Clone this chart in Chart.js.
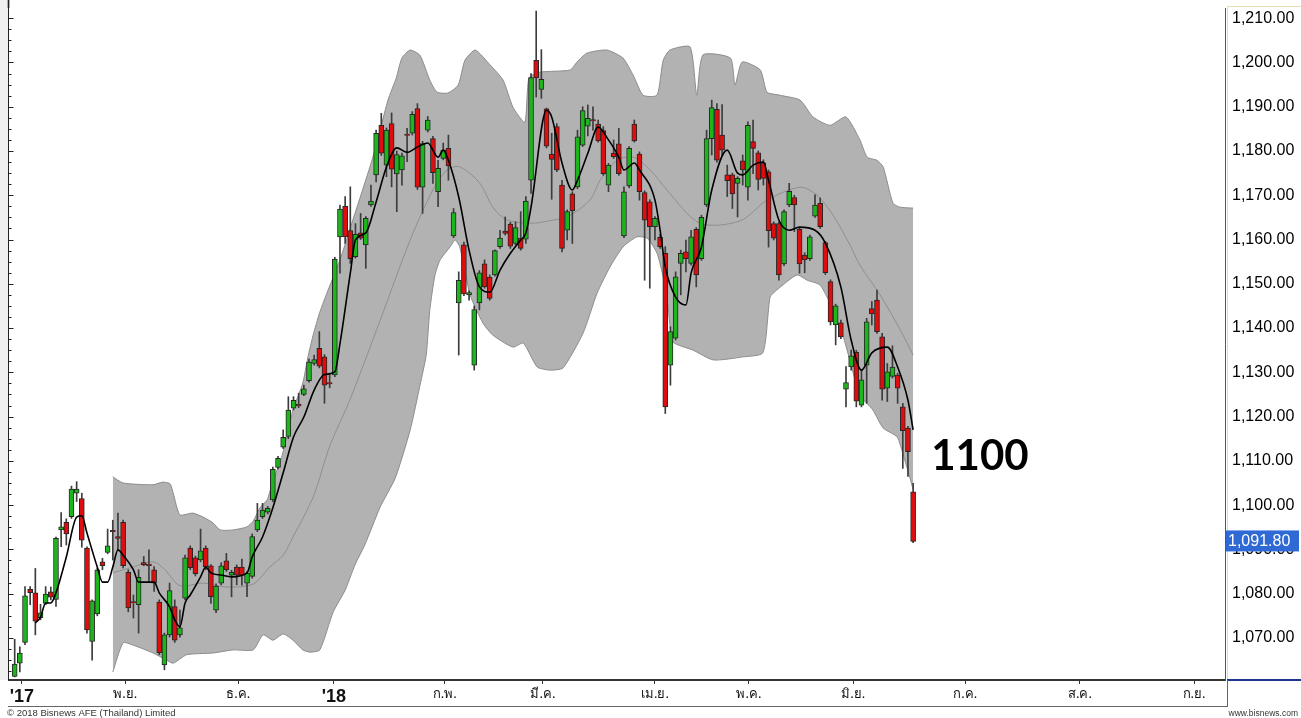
<!DOCTYPE html>
<html>
<head>
<meta charset="utf-8">
<script src="https://cdn.jsdelivr.net/npm/chart.js@4.4.1/dist/chart.umd.min.js"></script>
<style>
  html, body { margin: 0; padding: 0; background: #fff; }
  #wrap { position: relative; width: 1301px; height: 718px; }
</style>
</head>
<body>
<div id="wrap"><canvas id="chart" width="1301" height="718"></canvas></div>
<script>
// daily candles, index = trading day from early Oct 2017
const openP = [1061.3,1064.3,1069.0,1081.0,1080.2,1074.6,1077.8,1080.4,1078.7,1094.4,
  1096.1,1097.4,1102.7,1101.5,1090.3,1069.2,1075.4,1087.2,1089.3,1094.3,
  1092.9,1096.1,1084.8,1078.2,1077.5,1087.0,1086.7,1085.4,1078.1,1063.9,
  1070.7,1077.1,1070.7,1079.0,1090.3,1088.1,1087.6,1090.3,1086.3,1076.3,
  1082.4,1087.4,1084.2,1086.0,1086.0,1082.4,1083.9,1094.4,1097.4,1098.4,
  1101.2,1108.5,1113.1,1115.5,1121.9,1122.8,1125.0,1128.1,1132.0,1135.4,
  1133.5,1127.7,1129.4,1160.6,1167.5,1162.0,1156.1,1161.5,1158.8,1167.8,
  1174.6,1185.8,1176.8,1186.2,1174.8,1175.7,1183.8,1184.0,1189.6,1171.8,
  1184.7,1182.8,1170.8,1178.3,1180.6,1160.8,1145.7,1158.8,1147.5,1131.6,
  1145.7,1154.5,1151.5,1152.0,1158.4,1161.9,1163.5,1159.1,1160.3,1160.1,
  1173.4,1200.5,1193.9,1189.5,1179.3,1185.5,1172.3,1162.1,1170.3,1171.9,
  1181.3,1185.6,1187.1,1186.1,1184.6,1172.3,1179.5,1181.6,1160.8,1172.1,
  1186.1,1179.3,1170.6,1168.5,1162.9,1160.5,1156.9,1131.6,1137.7,1154.6,
  1157.2,1154.6,1162.3,1155.7,1167.8,1182.8,1189.4,1183.6,1174.6,1174.6,
  1172.7,1177.8,1171.8,1182.1,1179.6,1177.3,1175.3,1163.6,1163.6,1154.5,
  1167.8,1169.5,1162.3,1156.5,1155.7,1165.3,1168.2,1159.3,1150.5,1140.7,
  1141.2,1126.2,1131.2,1134.5,1122.6,1131.6,1144.4,1146.3,1138.0,1126.4,
  1129.1,1129.4,1122.2,1117.4,1103.0];
const highP = [1069.7,1068.0,1081.6,1081.6,1085.7,1077.6,1081.6,1081.5,1092.8,1098.3,
  1096.9,1104.3,1105.3,1102.7,1090.6,1078.6,1085.8,1088.0,1094.6,1096.6,
  1098.2,1096.6,1085.4,1079.7,1085.4,1088.4,1089.9,1086.1,1078.6,1071.1,
  1082.4,1078.6,1076.3,1088.7,1090.8,1088.5,1094.6,1090.8,1086.6,1082.2,
  1087.0,1089.1,1085.3,1086.5,1087.8,1085.0,1093.5,1100.4,1100.4,1099.7,
  1108.6,1111.0,1117.0,1124.5,1124.5,1125.3,1127.1,1133.0,1133.9,1139.2,
  1134.0,1129.8,1156.0,1167.8,1169.7,1171.9,1163.6,1165.9,1165.2,1172.3,
  1184.7,1188.5,1185.2,1188.6,1180.0,1179.5,1185.1,1188.9,1190.7,1182.2,
  1187.8,1183.3,1177.9,1181.8,1183.6,1167.0,1152.7,1159.4,1148.4,1145.0,
  1153.0,1155.4,1152.0,1157.7,1162.1,1165.1,1163.9,1164.0,1166.3,1169.7,
  1197.5,1211.6,1202.9,1189.7,1184.0,1186.2,1173.4,1166.7,1170.8,1184.7,
  1190.0,1190.4,1190.0,1187.0,1185.5,1177.2,1182.5,1185.1,1171.9,1181.0,
  1187.0,1179.8,1171.0,1169.0,1165.2,1161.2,1158.4,1140.3,1152.7,1157.6,
  1159.9,1162.1,1162.7,1165.5,1184.7,1191.5,1190.7,1190.5,1176.8,1175.0,
  1174.2,1179.1,1186.6,1187.0,1180.0,1178.0,1175.7,1164.0,1164.0,1166.7,
  1172.7,1170.0,1162.7,1157.0,1161.0,1170.1,1169.4,1159.6,1150.9,1145.4,
  1141.8,1131.3,1135.0,1135.0,1130.5,1142.2,1146.0,1148.6,1138.8,1132.0,
  1136.0,1129.8,1123.0,1117.8,1104.9];
const lowP = [1061.2,1062.3,1068.5,1077.5,1070.7,1074.1,1077.5,1078.6,1077.1,1090.6,
  1091.0,1097.0,1100.8,1090.5,1071.1,1065.0,1075.0,1085.4,1089.0,1087.6,
  1089.9,1085.8,1075.9,1074.5,1071.1,1086.3,1082.7,1080.5,1066.2,1062.8,
  1070.2,1069.0,1070.2,1078.6,1085.4,1084.0,1087.2,1085.4,1077.8,1075.7,
  1082.0,1085.0,1079.3,1082.0,1081.9,1079.3,1083.5,1094.0,1097.0,1098.0,
  1100.8,1108.2,1112.8,1115.0,1121.5,1122.0,1124.7,1127.8,1131.6,1131.0,
  1123.0,1126.5,1129.0,1152.4,1159.1,1154.6,1155.8,1160.0,1153.5,1167.5,
  1173.0,1179.0,1174.2,1171.9,1166.3,1172.3,1177.6,1183.6,1171.3,1165.9,
  1184.3,1172.7,1167.4,1178.0,1173.4,1160.4,1133.9,1147.3,1146.3,1130.5,
  1144.1,1149.0,1146.3,1151.7,1158.0,1161.0,1158.0,1158.7,1157.6,1159.1,
  1170.4,1192.2,1191.9,1180.7,1169.1,1175.3,1157.2,1159.9,1159.1,1171.5,
  1181.0,1183.4,1184.7,1182.0,1174.5,1170.8,1178.3,1174.5,1160.4,1171.7,
  1182.0,1168.9,1150.8,1149.0,1159.9,1158.0,1120.7,1127.1,1137.3,1147.5,
  1152.7,1154.2,1149.3,1155.3,1167.4,1179.1,1177.5,1179.0,1169.7,1167.0,
  1165.1,1172.3,1168.9,1174.9,1171.2,1172.3,1158.3,1159.9,1150.8,1154.1,
  1167.4,1161.8,1152.4,1152.5,1155.3,1165.0,1162.5,1152.1,1140.7,1136.2,
  1137.6,1122.2,1130.5,1122.2,1122.2,1123.0,1140.7,1138.8,1123.7,1123.4,
  1128.7,1123.0,1108.3,1106.5,1091.5];
const closeP = [1064.1,1066.6,1079.5,1080.2,1073.8,1075.7,1079.9,1079.2,1092.5,1095.1,
  1093.5,1103.6,1103.6,1092.1,1071.8,1078.4,1085.4,1086.3,1090.8,1094.0,
  1092.5,1086.3,1076.8,1077.9,1083.7,1086.5,1086.3,1082.4,1066.7,1070.7,
  1080.7,1069.5,1072.3,1088.1,1085.9,1084.5,1089.7,1086.1,1079.3,1081.7,
  1086.3,1085.4,1084.8,1084.2,1084.2,1084.6,1092.9,1096.6,1098.9,1099.3,
  1108.1,1110.6,1115.3,1121.5,1123.7,1122.4,1126.3,1132.3,1132.9,1131.4,
  1127.1,1127.4,1155.6,1166.9,1160.6,1155.7,1161.2,1160.3,1164.8,1168.7,
  1184.0,1179.5,1184.7,1175.9,1179.2,1178.9,1183.5,1188.3,1171.8,1181.7,
  1187.0,1175.1,1176.1,1180.2,1176.6,1166.1,1150.8,1147.7,1148.0,1144.2,
  1152.5,1149.3,1146.7,1157.5,1160.3,1161.4,1158.5,1162.7,1158.0,1168.7,
  1196.6,1196.5,1196.2,1181.1,1178.1,1175.7,1158.0,1166.3,1166.5,1183.2,
  1189.1,1187.4,1186.8,1182.3,1174.9,1176.8,1178.7,1174.9,1170.8,1180.6,
  1182.3,1170.8,1164.4,1162.9,1164.8,1158.4,1122.2,1139.2,1151.6,1156.9,
  1155.7,1160.6,1152.0,1165.0,1182.8,1189.8,1177.9,1180.2,1173.3,1170.3,
  1173.8,1175.7,1185.8,1180.6,1173.6,1173.8,1162.0,1160.3,1152.0,1166.3,
  1170.9,1167.8,1154.5,1155.4,1160.6,1167.8,1162.9,1152.5,1141.4,1145.0,
  1138.0,1127.7,1133.7,1123.5,1128.3,1141.4,1143.2,1139.2,1126.2,1130.1,
  1131.2,1126.4,1116.8,1112.1,1091.8];

// short moving average (black line), read at these candle indices
const maIdx = [4,5,6,7,8,10,12,13,14,16,17,18,19,20,21,23,24,27,28,30,31,32,33,34,36,37,38,40,42,45,
  46,48,50,52,54,56,58,60,62,63,65,66,68,70,72,74,76,78,80,82,83,84,86,88,90,92,94,96,98,99,
  100,103,104,106,108,109,111,113,115,117,118,120,121,124,125,126,128,130,131,133,135,138,140,141,143,145,146,148,150,152,
  155,157,160,162,164,166,169,171,173,174];
const maVal = [1073.4,1074.7,1077.9,1077.9,1080.2,1088.3,1097.3,1097.6,1093.7,1086.0,1082.6,1082.6,1086.0,1089.9,1088.7,1085.4,1082.6,1082.6,1080.2,1077.0,
  1074.1,1072.5,1077.9,1079.7,1083.8,1086.0,1084.7,1084.2,1083.8,1084.7,1088.3,1092.8,1099.4,1107.3,1115.4,1119.9,1126.0,1129.5,1130.1,1136.5,
  1152.4,1159.9,1161.5,1168.5,1176.4,1180.7,1179.7,1180.9,1181.8,1178.6,1180.2,1177.9,1169.6,1157.6,1149.3,1148.1,1153.1,1156.9,1159.9,1161.5,
  1167.3,1189.2,1187.7,1177.3,1171.2,1173.4,1179.5,1185.4,1182.5,1178.6,1175.7,1177.3,1175.7,1168.9,1162.1,1153.8,1147.0,1145.2,1152.4,1158.3,
  1171.2,1180.2,1175.0,1174.6,1176.8,1177.5,1173.4,1164.4,1162.1,1162.8,1162.1,1159.2,1149.3,1137.3,1130.5,1134.4,1135.7,1131.2,1123.7,1117.0];

// Bollinger band edges and middle line
const upIdx = [19.0,21.0,26.8,28.7,30.1,30.7,32.0,34.5,36.5,38.4,39.8,42.3,45.0,46.2,47.5,48.9,49.4,50.8,51.4,52.7,
  53.9,55.8,56.8,57.8,59.1,60.7,63.0,65.3,69.4,72.3,73.9,75.0,76.6,78.5,80.4,81.8,83.9,85.9,87.2,89.2,
  92.1,94.6,96.5,98.8,99.6,101.7,107.6,108.9,110.8,114.7,117.8,119.8,121.7,124.4,125.6,126.9,130.8,132.1,133.3,138.6,
  139.5,140.9,144.4,145.7,148.2,152.1,154.6,157.9,161.0,163.7,165.1,167.0,168.2,170.1,171.5,174.0];
const upVal = [1106.4,1105.0,1104.6,1105.2,1104.8,1102.7,1097.8,1098.2,1097.3,1096.0,1094.4,1094.4,1095.1,1096.4,1099.4,1101.2,1103.0,1107.9,1109.5,1115.4,
  1121.5,1127.6,1133.5,1138.4,1143.6,1148.6,1155.4,1163.7,1178.7,1191.5,1196.5,1201.0,1202.8,1201.6,1196.0,1193.3,1193.1,1194.9,1200.5,1202.8,
  1199.4,1196.0,1189.9,1186.5,1196.5,1197.8,1198.3,1200.1,1202.1,1202.8,1201.0,1197.1,1192.6,1192.6,1200.5,1202.8,1203.5,1192.6,1201.7,1201.0,
  1194.9,1200.1,1198.3,1193.3,1192.6,1191.5,1187.7,1185.8,1187.7,1182.5,1178.6,1177.9,1176.4,1168.2,1167.3,1167.1];
const loIdx = [19.0,21.0,22.9,26.8,29.4,30.7,33.3,38.4,42.3,46.2,48.1,50.0,52.0,53.9,55.8,57.2,59.1,61.7,64.0,65.9,
  67.8,70.8,73.7,76.6,78.5,79.7,80.4,81.4,82.4,84.3,85.3,86.2,88.2,90.7,92.6,96.5,98.5,101.2,103.7,106.2,
  110.1,112.8,115.3,117.8,120.5,122.5,124.4,125.6,126.4,126.9,127.5,131.4,135.3,141.1,144.9,146.3,147.6,151.5,153.5,156.0,
  158.5,160.4,163.7,166.2,168.2,170.9,172.1,173.4,174.0];
const loVal = [1062.3,1068.9,1068.4,1066.6,1065.0,1064.3,1066.2,1066.6,1067.3,1067.3,1070.7,1069.5,1070.9,1069.5,1067.3,1066.8,1067.3,1075.9,1080.8,1086.5,
  1091.0,1099.6,1106.1,1117.0,1127.1,1133.9,1144.1,1152.0,1155.4,1158.3,1159.9,1158.3,1147.5,1141.1,1138.4,1135.7,1136.6,1131.2,1130.5,1131.0,
  1138.9,1147.9,1153.8,1158.3,1160.6,1160.3,1156.9,1151.5,1146.3,1140.7,1136.8,1135.0,1132.8,1133.5,1134.4,1147.0,1148.6,1152.0,1150.8,1149.7,
  1144.1,1138.4,1124.9,1121.5,1117.4,1115.4,1111.3,1106.1,1103.5];
const midIdx = [19.0,22.3,26.8,29.1,32.0,36.5,41.1,46.2,49.4,52.0,53.9,57.8,61.1,64.9,70.8,76.6,81.0,83.7,86.2,90.1,
  92.6,95.4,100.4,104.3,107.0,111.4,113.4,116.7,119.8,123.1,126.3,132.7,140.5,145.7,152.1,155.4,158.5,161.8,163.7,167.6,
  171.5,174.0];
const midVal = [1084.7,1085.8,1087.2,1085.4,1081.8,1082.4,1081.5,1082.2,1086.0,1088.7,1092.8,1101.8,1113.6,1123.7,1141.8,1159.9,1171.2,1175.7,1176.4,1172.7,
  1167.3,1164.4,1163.7,1164.4,1165.1,1168.9,1173.4,1177.9,1178.6,1175.7,1171.2,1163.7,1164.2,1168.9,1171.8,1170.0,1165.5,1158.7,1154.2,1147.5,
  1139.6,1133.9];

// axis labels
const monthIdx = [1.4, 21.4, 43.3, 61.8, 83.3, 102.3, 124.0, 142.2, 162.4, 184.1, 206.3, 228.4];
const monthLabels = ["'17", "พ.ย.", "ธ.ค.", "'18", "ก.พ.", "มี.ค.", "เม.ย.", "พ.ค.", "มิ.ย.", "ก.ค.", "ส.ค.", "ก.ย."];
const yTicks = [1070, 1080, 1090, 1100, 1110, 1120, 1130, 1140, 1150, 1160, 1170, 1180, 1190, 1200, 1210];

// note on the right of the last candle
const noteText = '1100';
const noteIdx = 177.5;
const noteVal = 1111.0;

const GREEN = '#1cb51c';
const RED = '#df0d0d';
const fmt = v => v.toLocaleString('en-US', { minimumFractionDigits: 2, maximumFractionDigits: 2 });
const pts = (xs, ys) => xs.map((x, i) => ({ x: x, y: ys[i] }));

const decor = {
  id: 'decor',
  beforeDraw(chart) {
    const ctx = chart.ctx;
    ctx.save();
    ctx.fillStyle = '#fff';
    ctx.fillRect(0, 0, chart.width, chart.height);
    ctx.restore();
  },
  afterDraw(chart) {
    const { ctx, chartArea: a, scales: { x, y } } = chart;
    ctx.save();
    // left strip + small left axis
    ctx.fillStyle = '#f0f0f0';
    ctx.fillRect(0, 0, 8, a.bottom);
    ctx.fillStyle = '#f5a623';
    ctx.fillRect(7, 0, 3, 8);
    ctx.strokeStyle = '#222';
    ctx.lineWidth = 1;
    ctx.beginPath();
    ctx.moveTo(8.5, 0);
    ctx.lineTo(8.5, a.bottom);
    for (let v = 1062.5; v <= 1212; v += 2.5) {
      const py = Math.round(y.getPixelForValue(v)) + 0.5;
      const len = (v % 10 === 0) ? 5 : 3;
      ctx.moveTo(8.5, py);
      ctx.lineTo(8.5 + len, py);
    }
    ctx.stroke();

    // pale frame of the price column
    ctx.strokeStyle = '#eadcae';
    ctx.beginPath();
    ctx.moveTo(a.right + 2.5, 6);
    ctx.lineTo(a.right + 2.5, a.bottom);
    ctx.moveTo(a.right + 2.5, 6.5);
    ctx.lineTo(1301, 6.5);
    ctx.stroke();

    // price labels on the right
    ctx.fillStyle = '#000';
    ctx.font = '16px "Liberation Sans", Arial, sans-serif';
    ctx.textAlign = 'left';
    ctx.textBaseline = 'middle';
    yTicks.forEach(v => ctx.fillText(fmt(v), a.right + 7, y.getPixelForValue(v)));

    // last price tag
    const last = closeP[closeP.length - 1];
    const py = y.getPixelForValue(last);
    ctx.fillStyle = '#2e69d6';
    ctx.fillRect(a.right + 1, py - 11, 73, 21);
    ctx.fillStyle = '#fff';
    ctx.fillText(fmt(last), a.right + 3, py);

    // note
    ctx.fillStyle = '#000';
    ctx.font = 'bold 42px Lato, "Open Sans", sans-serif';
    ctx.fillText(noteText, x.getPixelForValue(noteIdx), y.getPixelForValue(noteVal));

    // bottom frame
    ctx.fillStyle = '#1c3590';
    ctx.fillRect(a.right + 2, a.bottom - 1, chart.width - a.right, 2);
    ctx.strokeStyle = '#666';
    ctx.beginPath();
    ctx.moveTo(8, 706.5);
    ctx.lineTo(a.right + 3, 706.5);
    ctx.moveTo(a.right + 2.5, a.bottom);
    ctx.lineTo(a.right + 2.5, 706);
    ctx.stroke();

    ctx.fillStyle = '#333';
    ctx.textBaseline = 'alphabetic';
    ctx.font = '9.5px "Liberation Sans", Arial, sans-serif';
    ctx.fillText('© 2018 Bisnews AFE (Thailand) Limited', 7, 716);
    ctx.textAlign = 'right';
    ctx.font = '8.5px "Liberation Sans", Arial, sans-serif';
    ctx.fillText('www.bisnews.com', 1298, 716);
    ctx.restore();
  }
};

const ctx = document.getElementById('chart').getContext('2d');

new Chart(ctx, {
  data: {
    datasets: [
      {
        type: 'line', label: 'BB upper', data: pts(upIdx, upVal), order: 6,
        borderColor: '#8c8c8c', borderWidth: 1, backgroundColor: '#b2b2b2',
        fill: { target: 1 }, pointRadius: 0, tension: 0.2
      },
      {
        type: 'line', label: 'BB lower', data: pts(loIdx, loVal), order: 5,
        borderColor: '#8c8c8c', borderWidth: 1, fill: false, pointRadius: 0, tension: 0.2
      },
      {
        type: 'line', label: 'BB middle', data: pts(midIdx, midVal), order: 4,
        borderColor: '#8f8f8f', borderWidth: 1, fill: false, pointRadius: 0, tension: 0.3
      },
      {
        type: 'bar', label: 'wick', order: 3, grouped: false,
        data: closeP.map((c, i) => ({ x: i, y: [lowP[i], highP[i]] })),
        backgroundColor: '#3c3c3c', borderWidth: 0, barThickness: 1
      },
      {
        type: 'bar', label: 'body', order: 2, grouped: false,
        data: closeP.map((c, i) => ({ x: i, y: [openP[i], c] })),
        backgroundColor: closeP.map((c, i) => c >= openP[i] ? GREEN : RED),
        borderColor: '#262626', borderWidth: 1, borderSkipped: false, barThickness: 5
      },
      {
        type: 'line', label: 'MA', data: pts(maIdx, maVal), order: 1,
        borderColor: '#000', borderWidth: 1.6, fill: false, pointRadius: 0,
        cubicInterpolationMode: 'monotone'
      }
    ]
  },
  options: {
    responsive: false,
    animation: false,
    events: [],
    layout: { padding: { left: 9, top: 8, right: 0, bottom: 0 } },
    plugins: { legend: { display: false }, tooltip: { enabled: false } },
    scales: {
      x: {
        type: 'linear',
        offset: false,
        min: -1.1,
        max: 234.4,
        afterBuildTicks: s => { s.ticks = monthIdx.map(v => ({ value: v })); },
        afterFit: s => { s.height = 38; },
        grid: { offset: false, drawOnChartArea: false, drawTicks: true, tickLength: 4, color: '#333' },
        border: { display: true, color: '#333', width: 2 },
        ticks: {
          autoSkip: false,
          maxRotation: 0,
          padding: 2,
          color: '#111',
          font: c => (monthLabels[c.index] || '').startsWith("'")
            ? { family: '"Liberation Sans", Arial, sans-serif', size: 18, weight: 'bold' }
            : { family: '"Noto Sans", "DejaVu Sans", sans-serif', size: 13 },
          callback: (v, i) => monthLabels[i]
        }
      },
      y: {
        type: 'linear',
        position: 'right',
        min: 1060.5,
        max: 1212.3,
        afterBuildTicks: s => { s.ticks = yTicks.map(v => ({ value: v })); },
        afterFit: s => { s.width = 76; },
        grid: { display: false, drawTicks: false },
        border: { display: true, color: '#555', width: 1, dash: [1, 1] },
        ticks: { display: false }
      }
    }
  },
  plugins: [decor]
});
</script>
</body>
</html>
